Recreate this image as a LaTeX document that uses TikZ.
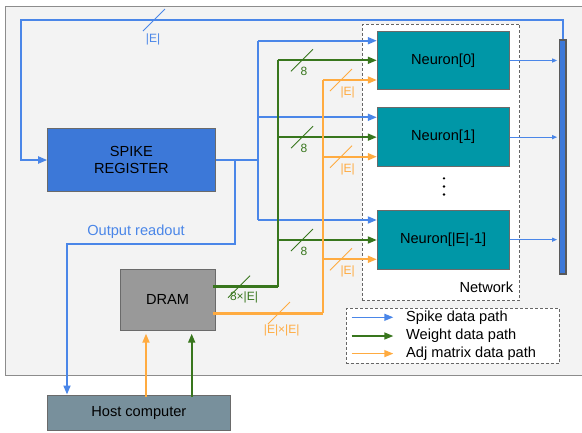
\documentclass[tikz,border=0pt]{standalone}
\usepackage{fontspec}
\setmainfont{Liberation Sans}
\usetikzlibrary{arrows.meta}
\definecolor{bgc}{HTML}{F3F3F3}
\definecolor{spkc}{HTML}{4A86E8}
\definecolor{srfill}{HTML}{3C78D8}
\definecolor{wc}{HTML}{38761D}
\definecolor{ac}{HTML}{FFAB40}
\definecolor{neuc}{HTML}{0097A7}
\definecolor{hostc}{HTML}{78909C}
\definecolor{dramc}{HTML}{999999}
\definecolor{edgec}{HTML}{6A6A6A}
\begin{document}
\begin{tikzpicture}[x=1pt,y=-1pt,
 box/.style={draw=edgec,line width=1pt,inner sep=0pt,align=center,font=\fontsize{14.6}{17}\selectfont},
 tip/.style={-{Triangle[length=9pt,width=7pt]}},
 smalltip/.style={-{Triangle[length=5pt,width=4pt]}},
 spk/.style={draw=spkc,line width=1.8pt},
 wgt/.style={draw=wc,line width=1.8pt},
 adj/.style={draw=ac,line width=1.8pt},
 thick2/.style={line width=2.6pt},
 slash/.style={line width=0.9pt},
 lbl/.style={font=\fontsize{12}{14}\selectfont,inner sep=0pt},
 big/.style={font=\fontsize{14.6}{17}\selectfont,inner sep=0pt}]
\useasboundingbox (0,0) rectangle (582,432);
% background panel
\fill[bgc] (5.7,6.7) rectangle (590,375.7);
\draw[draw=black!45, line width=1.3pt] (590,6.7) -- (5.7,6.7) -- (5.7,375.7) -- (590,375.7);

% network box
\node[draw=black!60, dashed, dash pattern=on 3pt off 2pt, fill=white, line width=0.9pt,
      minimum width=157.4pt, minimum height=276.7pt, inner sep=0pt] (net) at (441,162.35) {};
\node[big, anchor=base east] (netlbl) at (513.3,292.7) {Network};

% neurons
\node[box, fill=neuc, minimum width=131.7pt, minimum height=58.8pt] (n0) at (443.15,60.5) {Neuron[0]};
\node[box, fill=neuc, minimum width=131.7pt, minimum height=58.8pt] (n1) at (443.15,137.15) {Neuron[1]};
\node[box, fill=neuc, minimum width=131.7pt, minimum height=58.8pt] (nN) at (443.15,239.65) {Neuron[|E|-1]};
\fill (444,178.3) circle (1.3pt) (444,186.5) circle (1.3pt) (444,194.5) circle (1.3pt);

% other blocks
\node[box, fill=srfill, minimum width=167.3pt, minimum height=62.3pt] (sr) at (131.35,160) {SPIKE\\REGISTER};
\node[draw=black!65, fill=srfill, line width=1.1pt, minimum width=6.3pt, minimum height=234pt, inner sep=0pt] (bar) at (562.85,157) {};
\node[box, fill=dramc, minimum width=95pt, minimum height=61.7pt] (dram) at (167.5,299.85) {DRAM};
\node[box, fill=hostc, minimum width=182.3pt, minimum height=35.7pt] (host) at (138.85,412.85) {Host computer};

% feedback |E|
\coordinate (fb1) at (562.85,20);
\coordinate (fb2) at (21,20);
\draw[spk,tip] (bar.north) -- (fb1) -- (fb2) |- (sr.west);
\draw[spkc,slash] (143,31) -- (165,9);
\node[lbl,text=spkc] (fblbl) at (153,39) {|E|};

% spike paths
\coordinate (sj) at (258.3,160);
\coordinate (s0) at (258.3,40.7);
\coordinate (s1) at (258.3,117.3);
\coordinate (sN) at (258.3,220);
\draw[spk] (sr.east) -- (sj);
\draw[spk] (s0) -- (sN);
\draw[spk,tip] (s0) -- (s0 -| n0.west);
\draw[spk,tip] (s1) -- (s1 -| n1.west);
\draw[spk,tip] (sN) -- (sN -| nN.west);

% output readout
\coordinate (oj) at (235,160);
\coordinate (o1) at (235,244);
\coordinate (o2) at (67,244);
\draw[spk,tip] (oj) -- (o1) -- (o2) -- (o2 |- host.north);
\node[big,text=spkc] (orlbl) at (136,232) {Output readout};

% neuron outputs
\draw[spkc,line width=1pt,smalltip,shorten >=2pt] (n0.east) -- (n0.east -| bar.west);
\draw[spkc,line width=1pt,smalltip,shorten >=2pt] (n1.east) -- (n1.east -| bar.west);
\draw[spkc,line width=1pt,smalltip,shorten >=2pt] (nN.east) -- (nN.east -| bar.west);

% weight paths
\coordinate (wj) at (277.7,286.7);
\coordinate (w0) at (277.7,60.3);
\coordinate (w1) at (277.7,137.15);
\coordinate (wN) at (277.7,240);
\draw[wgt,thick2] ([xshift=-3pt]wj -| dram.east) -- (wj);
\draw[wgt] (w0) -- (wj);
\draw[wgt,tip] (w0) -- (w0 -| n0.west);
\draw[wgt,tip] (w1) -- (w1 -| n1.west);
\draw[wgt,tip] (wN) -- (wN -| nN.west);
\foreach \yy in {60.3,137.15,240}{
  \draw[wc,slash] (291,\yy+11) -- (313,\yy-11);
  \node[lbl,text=wc] at (304,\yy+11) {8};
}
\draw[wc,slash] (228,297.7) -- (250,275.7);
\node[lbl,text=wc] (wlbl) at (244,297.3) {8×|E|};

% adjacency paths
\coordinate (aj) at (323.3,313.3);
\coordinate (a0) at (323.3,80);
\coordinate (a1) at (323.3,156.7);
\coordinate (aN) at (323.3,259.3);
\draw[adj,thick2] ([xshift=-3pt]aj -| dram.east) -- (aj);
\draw[adj] (a0) -- (aj);
\draw[adj,tip] (a0) -- (a0 -| n0.west);
\draw[adj,tip] (a1) -- (a1 -| n1.west);
\draw[adj,tip] (aN) -- (aN -| nN.west);
\foreach \yy in {80,156.7,259.3}{
  \draw[ac,slash] (330,\yy+11) -- (352,\yy-11);
  \node[lbl,text=ac] at (347.7,\yy+12.3) {|E|};
}
\draw[ac,slash] (268,324) -- (290,302);
\node[lbl,text=ac] (albl) at (281.7,330) {|E|×|E|};

% host -> DRAM
\coordinate (ha) at (146,395);
\coordinate (hw) at (191.7,395);
\draw[adj,tip,shorten >=2.5pt] ([yshift=-2pt]ha |- host.north) -- (ha |- dram.south);
\draw[wgt,tip,shorten >=2.5pt] ([yshift=-2pt]hw |- host.north) -- (hw |- dram.south);

% legend
\node[draw=black!60, dashed, dash pattern=on 3pt off 2pt, fill=white, line width=0.9pt,
      minimum width=213.3pt, minimum height=55pt, inner sep=0pt] (leg) at (452.65,335.8) {};
\coordinate (l1) at (351.7,317.3);
\coordinate (l2) at (351.7,336);
\coordinate (l3) at (351.7,353.6);
\draw[spk,line width=1.4pt,tip] (l1) -- ++(41.6,0);
\draw[wgt,line width=1.4pt,tip] (l2) -- ++(41.6,0);
\draw[adj,line width=1.4pt,tip] (l3) -- ++(41.6,0);
\node[big,anchor=west] (lt1) at (406,317.3) {Spike data path};
\node[big,anchor=west] (lt2) at (406,336) {Weight data path};
\node[big,anchor=west] (lt3) at (406,353.6) {Adj matrix data path};
\end{tikzpicture}
\end{document}
